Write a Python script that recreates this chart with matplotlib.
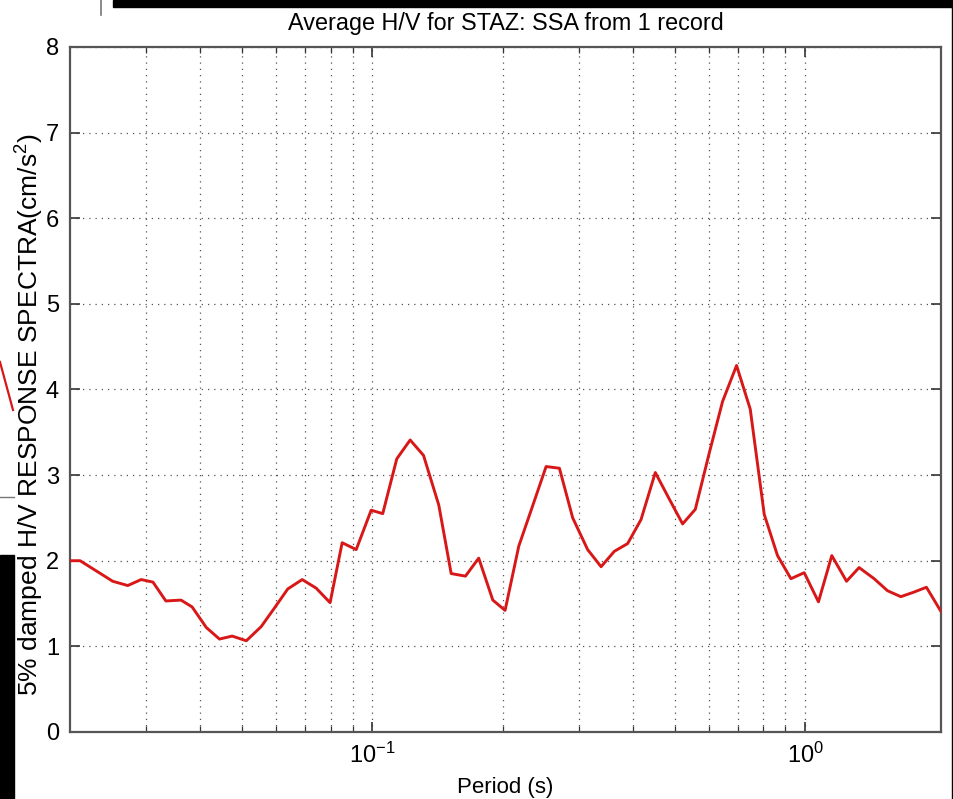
import matplotlib
matplotlib.use("Agg")
import matplotlib.pyplot as plt
from matplotlib.ticker import FixedLocator, NullFormatter
from matplotlib.patches import Rectangle
from matplotlib.lines import Line2D

plt.rcParams['font.family'] = ['Liberation Sans', 'DejaVu Sans']
plt.rcParams['mathtext.fontset'] = 'custom'
plt.rcParams['mathtext.rm'] = 'Liberation Sans'
plt.rcParams['mathtext.it'] = 'Liberation Sans'

# period (s) and averaged H/V ratio
period = [0.0201, 0.0211, 0.0251, 0.0272, 0.0292, 0.0311, 0.0333, 0.0361,
          0.0383, 0.0413, 0.0443, 0.0474, 0.0511, 0.0553, 0.0594, 0.0637,
          0.0688, 0.0741, 0.0798, 0.0851, 0.0917, 0.0993, 0.1056, 0.1138,
          0.1222, 0.1312, 0.1423, 0.1520, 0.1640, 0.1760, 0.1897, 0.2025,
          0.2178, 0.2341, 0.2519, 0.2704, 0.2902, 0.3142, 0.3375, 0.3622,
          0.3887, 0.4174, 0.4504, 0.4852, 0.5208, 0.5572, 0.6003, 0.6442,
          0.6940, 0.7464, 0.8042, 0.8630, 0.9268, 0.9947, 1.073, 1.152,
          1.246, 1.332, 1.443, 1.549, 1.663, 1.776, 1.906, 2.058]
hv = [2.00, 2.00, 1.76, 1.71, 1.78, 1.75, 1.53, 1.54,
      1.46, 1.22, 1.085, 1.12, 1.065, 1.23, 1.45, 1.67,
      1.78, 1.68, 1.51, 2.21, 2.13, 2.59, 2.55, 3.19,
      3.41, 3.23, 2.65, 1.85, 1.82, 2.03, 1.54, 1.42,
      2.17, 2.63, 3.10, 3.08, 2.50, 2.13, 1.93, 2.11,
      2.20, 2.48, 3.03, 2.72, 2.43, 2.60, 3.26, 3.86,
      4.28, 3.77, 2.54, 2.06, 1.79, 1.86, 1.52, 2.06,
      1.76, 1.92, 1.79, 1.65, 1.58, 1.63, 1.69, 1.41]

major_x = [0.1, 1.0]
minor_x = [0.03, 0.04, 0.05, 0.06, 0.07, 0.08, 0.09,
           0.2, 0.3, 0.4, 0.5, 0.6, 0.7, 0.8, 0.9]

fig = plt.figure(figsize=(9.54, 7.99), dpi=100)
ax = fig.add_axes([0.0734, 0.0839, 0.9130, 0.8573])

ax.plot(period, hv, color='#d81818', lw=2.1, zorder=3)
ax.set_xscale('log')
ax.set_xlim(0.02, 2.06)
ax.set_ylim(0, 8)

ax.xaxis.set_major_locator(FixedLocator(major_x))
ax.xaxis.set_minor_locator(FixedLocator(minor_x))
ax.xaxis.set_minor_formatter(NullFormatter())
ax.set_xticklabels([r'$10^{-1}$', r'$10^{0}$'])
ax.set_yticks(range(0, 9))

ax.grid(True, which='both', axis='x', ls=(0, (1, 4)), color='#555555', lw=0.9)
ax.grid(True, which='major', axis='y', ls=(0, (1, 4)), color='#555555', lw=0.9)
ax.tick_params(which='both', direction='in', top=True, right=True,
               labelsize=17, color='#333333')
ax.tick_params(which='major', length=7, width=1.2, pad=8)
ax.tick_params(which='minor', length=4, width=0.9)
for s in ax.spines.values():
    s.set_color('#555555')
    s.set_linewidth(1.6)

ax.set_title('Average H/V for STAZ: SSA from 1 record', fontsize=16.8, pad=12)
ax.set_xlabel('Period (s)', fontsize=16, labelpad=6)
ax.set_ylabel(r'5% damped H/V RESPONSE SPECTRA(cm/s$^2$)', fontsize=19)
ax.yaxis.set_label_coords(-0.028, 0.463)

# scraps of the neighbouring figure left in the crop
fig.patches.append(Rectangle((113 / 954, 1 - 7 / 799), 841 / 954, 7 / 799,
                             transform=fig.transFigure, color='black'))
fig.patches.append(Rectangle((952 / 954, 0), 2 / 954, 1,
                             transform=fig.transFigure, color='black'))
fig.patches.append(Rectangle((0, 0), 14 / 954, 1 - 555 / 799,
                             transform=fig.transFigure, color='black'))
fig.lines.append(Line2D([0, 13 / 954], [1 - 362 / 799, 1 - 410 / 799],
                        transform=fig.transFigure, color='#d81818', lw=1.6))
fig.lines.append(Line2D([0, 14 / 954], [1 - 497 / 799, 1 - 497 / 799],
                        transform=fig.transFigure, color='#777777', lw=1.0))
fig.lines.append(Line2D([101 / 954, 101 / 954], [1, 1 - 15 / 799],
                        transform=fig.transFigure, color='#777777', lw=1.2))

fig.savefig('out.png', dpi=100)
